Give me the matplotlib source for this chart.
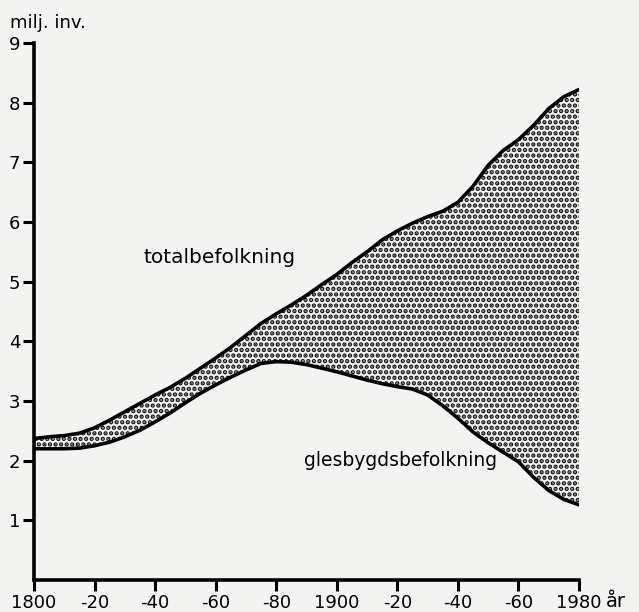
import matplotlib
matplotlib.use("Agg")
import matplotlib.pyplot as plt

# år och befolkning (miljoner invånare)
years = list(range(1800, 1981, 5))
total = [2.37, 2.40, 2.42, 2.46, 2.55, 2.68, 2.82, 2.96, 3.10, 3.23,
         3.38, 3.55, 3.72, 3.90, 4.10, 4.30, 4.46, 4.61, 4.77, 4.95,
         5.12, 5.32, 5.50, 5.70, 5.85, 5.98, 6.09, 6.18, 6.33, 6.60,
         6.95, 7.20, 7.38, 7.62, 7.90, 8.10, 8.22]
glesbygd = [2.20, 2.20, 2.20, 2.21, 2.25, 2.31, 2.40, 2.51, 2.65, 2.80,
            2.97, 3.13, 3.27, 3.40, 3.52, 3.63, 3.66, 3.65, 3.61, 3.55,
            3.49, 3.42, 3.35, 3.29, 3.24, 3.20, 3.10, 2.92, 2.71, 2.48,
            2.30, 2.14, 1.98, 1.72, 1.50, 1.35, 1.26]

xticks = [1800, 1820, 1840, 1860, 1880, 1900, 1920, 1940, 1960, 1980]
xlabels = ["1800", "-20", "-40", "-60", "-80", "1900", "-20", "-40", "-60", "1980"]
yticks = [1, 2, 3, 4, 5, 6, 7, 8, 9]

bg = "#f3f3f1"
plt.rcParams["hatch.linewidth"] = 2.2
plt.rcParams["font.family"] = ["DejaVu Sans"]

fig = plt.figure(figsize=(6.39, 6.12), dpi=100, facecolor=bg)
ax = fig.add_axes([0.0532, 0.0523, 0.853, 0.8775])
ax.set_facecolor(bg)

ax.fill_between(years, glesbygd, total, facecolor=bg, edgecolor="#111111",
                hatch="...", linewidth=0)
ax.plot(years, total, color="black", lw=2.6, solid_capstyle="round")
ax.plot(years, glesbygd, color="black", lw=2.6, solid_capstyle="round")

ax.set_xlim(1800, 1980)
ax.set_ylim(0, 9)
for s in ["top", "right"]:
    ax.spines[s].set_visible(False)
for s in ["left", "bottom"]:
    ax.spines[s].set_linewidth(2.6)

ax.set_xticks(xticks)
ax.set_xticklabels(xlabels, fontsize=13)
ax.set_yticks(yticks)
ax.set_yticklabels([str(v) for v in yticks], fontsize=13)
ax.tick_params(axis="both", direction="out", length=8, width=2.2, pad=2)

ax.text(1989, -0.45, "år", fontsize=14, ha="left", va="baseline")
ax.text(1792, 9.25, "milj. inv.", fontsize=13, ha="left", va="baseline")
ax.text(1836, 5.41, "totalbefolkning", fontsize=14.5, ha="left", va="center")
ax.text(1889, 2.0, "glesbygdsbefolkning", fontsize=13.5, ha="left", va="center")

fig.savefig("out.png", dpi=100, facecolor=bg)
